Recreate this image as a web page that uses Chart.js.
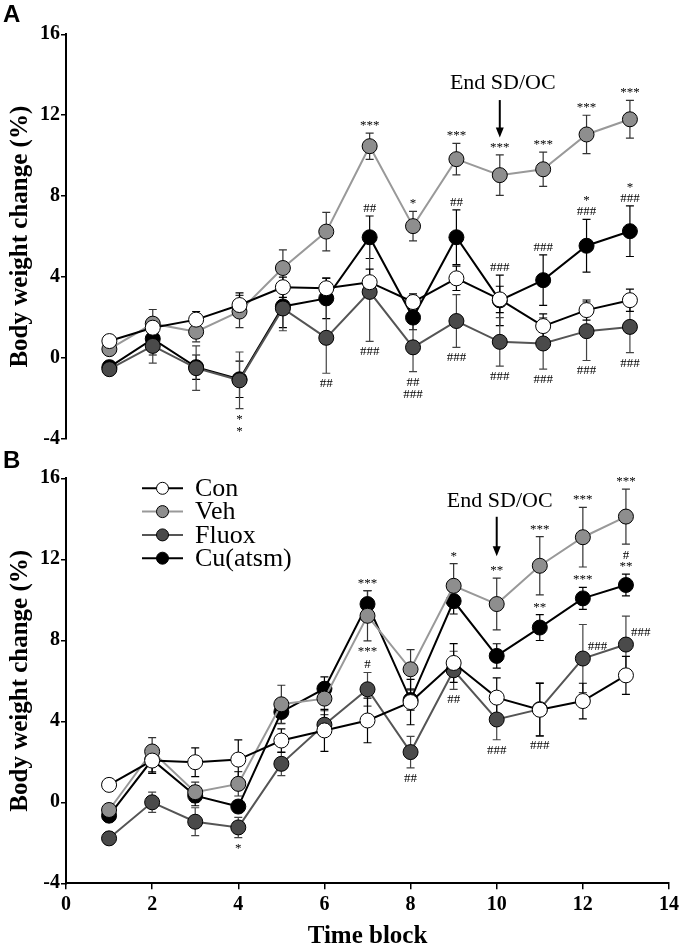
<!DOCTYPE html>
<html>
<head>
<meta charset="utf-8">
<script src="https://cdn.jsdelivr.net/npm/chart.js@4.4.1/dist/chart.umd.min.js"></script>
<style>
html, body { margin: 0; padding: 0; background: #fff; }
#wrap { position: relative; width: 685px; height: 948px; }
canvas { position: absolute; left: 0; }
#panelA { top: 0; }
#panelB { top: 450px; }
</style>
</head>
<body>
<div id="wrap">
<canvas id="panelA" width="685" height="450"></canvas>
<canvas id="panelB" width="685" height="498"></canvas>
</div>
<script>
// Body weight change per time block, two panels (A and B), four groups each.
var timeBlocks = [1, 2, 3, 4, 5, 6, 7, 8, 9, 10, 11, 12, 13];
var xTicks = [0, 2, 4, 6, 8, 10, 12, 14];
var yTicks = [-4, 0, 4, 8, 12, 16];
var groupNames = ["Con", "Veh", "Fluox", "Cu(atsm)"];

// Panel A: means and SEM
var conA = [0.84, 1.5, 1.9, 2.62, 3.5, 3.45, 3.75, 2.77, 3.94, 2.9, 1.58, 2.37, 2.86];
var conErrA = [0.3, 0.5, 0.4, 0.6, 0.5, 0.5, 0.65, 0.4, 0.6, 0.65, 0.6, 0.5, 0.55];
var vehA = [0.44, 1.7, 1.3, 2.3, 4.45, 6.25, 10.47, 6.52, 9.83, 9.04, 9.33, 11.05, 11.8];
var vehErrA = [0.3, 0.7, 0.5, 0.8, 0.9, 0.95, 0.65, 0.73, 0.78, 1.0, 0.85, 0.95, 0.93];
var fluoxA = [-0.55, 0.6, -0.5, -1.1, 2.45, 1.0, 3.27, 0.53, 1.83, 0.8, 0.72, 1.33, 1.54];
var fluoxErrA = [0.3, 0.85, 1.1, 1.4, 1.1, 1.75, 2.45, 1.2, 1.3, 1.2, 1.27, 1.45, 1.27];
var cuA = [-0.45, 0.95, -0.45, -1.05, 2.55, 2.95, 5.97, 2.0, 5.97, 2.85, 3.85, 5.55, 6.27];
var cuErrA = [0.3, 0.8, 0.6, 0.9, 1.05, 1.0, 1.05, 0.6, 1.35, 1.25, 1.25, 1.3, 1.25];

// Panel A: significance marks
var vehAboveA = ["", "", "", "", "", "", "***", "*", "***", "***", "***", "***", "***"];
var cuAboveA = ["", "", "", "", "", "", "##", "", "##", "###", "###", "*\n###", "*\n###"];
var fluoxBelowA = ["", "", "", "*\n*", "", "##", "###", "##\n###", "###", "###", "###", "###", "###"];

// Panel B: means and SEM
var conB = [0.86, 2.06, 1.98, 2.11, 3.05, 3.55, 4.04, 4.95, 6.88, 5.17, 4.57, 5.0, 6.27];
var conErrB = [0.3, 0.63, 0.71, 0.97, 0.58, 1.04, 1.1, 1.12, 0.96, 0.97, 1.3, 0.88, 0.94];
var vehB = [-0.38, 2.51, 0.5, 0.91, 4.84, 5.12, 9.21, 6.57, 10.69, 9.79, 11.68, 13.09, 14.11];
var vehErrB = [0.3, 0.68, 0.5, 0.6, 0.94, 0.6, 1.24, 0.97, 1.1, 1.28, 1.44, 1.47, 1.36];
var fluoxB = [-1.78, 0.0, -0.96, -1.24, 1.9, 3.83, 5.58, 2.48, 6.52, 4.09, 4.6, 7.1, 7.79];
var fluoxErrB = [0.3, 0.5, 0.69, 0.5, 0.58, 0.5, 0.83, 0.78, 0.94, 1.0, 1.3, 1.68, 1.4];
var cuB = [-0.66, 2.1, 0.33, -0.21, 4.46, 5.61, 9.79, 5.05, 9.94, 7.23, 8.63, 10.07, 10.73];
var cuErrB = [0.3, 0.6, 0.5, 0.3, 0.58, 0.58, 0.66, 0.5, 0.64, 0.6, 0.64, 0.54, 0.54];

// Panel B: significance marks
var vehAboveB = ["", "", "", "", "", "", "", "", "*", "**", "***", "***", "***"];
var vehBelowB = ["", "", "", "", "", "", "***", "", "", "", "", "", ""];
var cuAboveB = ["", "", "", "", "", "", "***", "", "", "", "**", "***", "#\n**"];
var fluoxAboveB = ["", "", "", "", "", "", "#", "", "", "", "", "", ""];
var fluoxBelowB = ["", "", "", "*", "", "", "", "##", "##", "###", "###", "", ""];
var fluoxRightB = ["", "", "", "", "", "", "", "", "", "", "", "###", "###"];

var serif = "'Liberation Serif', 'Times New Roman', serif";

var groupStyles = [
    { line: "#000000", fill: "#ffffff", error: "#000000" },
    { line: "#999999", fill: "#8e8e8e", error: "#333333" },
    { line: "#555555", fill: "#4a4a4a", error: "#444444" },
    { line: "#000000", fill: "#000000", error: "#000000" }
];

function toPoints(values) {
    return timeBlocks.map(function (t, i) {
        return { x: t, y: values[i] };
    });
}

function createDataset(index, values, errors, notes) {
    var style = groupStyles[index];
    return {
        label: groupNames[index],
        data: toPoints(values),
        errors: errors,
        notes: notes || {},
        errorColor: style.error,
        borderColor: style.line,
        borderWidth: 2,
        pointBackgroundColor: style.fill,
        pointBorderColor: "#000000",
        pointBorderWidth: 1,
        pointRadius: 7.5,
        pointHoverRadius: 7.5,
        tension: 0,
        fill: false
    };
}

function drawErrorBars(chart) {
    var ctx = chart.ctx;
    var xScale = chart.scales.x;
    var yScale = chart.scales.y;
    ctx.save();
    ctx.lineWidth = 1.2;
    for (var d = chart.data.datasets.length - 1; d >= 0; d--) {
        var ds = chart.data.datasets[d];
        ctx.strokeStyle = ds.errorColor;
        ds.data.forEach(function (p, i) {
            var x = xScale.getPixelForValue(p.x);
            var top = yScale.getPixelForValue(p.y + ds.errors[i]);
            var bottom = yScale.getPixelForValue(p.y - ds.errors[i]);
            ctx.beginPath();
            ctx.moveTo(x, top);
            ctx.lineTo(x, bottom);
            ctx.moveTo(x - 4, top);
            ctx.lineTo(x + 4, top);
            ctx.moveTo(x - 4, bottom);
            ctx.lineTo(x + 4, bottom);
            ctx.stroke();
        });
    }
    ctx.restore();
}

function drawNotes(chart) {
    var ctx = chart.ctx;
    var xScale = chart.scales.x;
    var yScale = chart.scales.y;
    ctx.save();
    ctx.fillStyle = "#000000";
    ctx.font = "13px " + serif;
    ctx.textBaseline = "alphabetic";
    chart.data.datasets.forEach(function (ds) {
        var notes = ds.notes;
        ds.data.forEach(function (p, i) {
            var x = xScale.getPixelForValue(p.x);
            var y = yScale.getPixelForValue(p.y);
            var top = yScale.getPixelForValue(p.y + ds.errors[i]);
            var bottom = yScale.getPixelForValue(p.y - ds.errors[i]);
            ctx.textAlign = "center";
            if (notes.above && notes.above[i]) {
                var up = notes.above[i].split("\n");
                for (var a = 0; a < up.length; a++) {
                    ctx.fillText(up[a], x, top - 4 - (up.length - 1 - a) * 11);
                }
            }
            if (notes.below && notes.below[i]) {
                var down = notes.below[i].split("\n");
                for (var b = 0; b < down.length; b++) {
                    ctx.fillText(down[b], x, bottom + 14 + b * 12);
                }
            }
            if (notes.right && notes.right[i]) {
                ctx.textAlign = "left";
                ctx.fillText(notes.right[i], x + 5, y - 9);
            }
        });
    });
    ctx.restore();
}

function drawEndMarker(chart, opts) {
    var ctx = chart.ctx;
    var x = chart.scales.x.getPixelForValue(opts.endX);
    var yScale = chart.scales.y;
    var textY = yScale.getPixelForValue(opts.endTextY);
    var from = yScale.getPixelForValue(opts.endFrom);
    var to = yScale.getPixelForValue(opts.endTo);
    ctx.save();
    ctx.fillStyle = "#000000";
    ctx.strokeStyle = "#000000";
    ctx.font = "22px " + serif;
    ctx.textAlign = "center";
    ctx.textBaseline = "middle";
    ctx.fillText("End SD/OC", x + 3, textY);
    ctx.lineWidth = 2;
    ctx.beginPath();
    ctx.moveTo(x, from);
    ctx.lineTo(x, to - 8);
    ctx.stroke();
    ctx.beginPath();
    ctx.moveTo(x - 4, to - 10);
    ctx.lineTo(x + 4, to - 10);
    ctx.lineTo(x, to);
    ctx.closePath();
    ctx.fill();
    ctx.restore();
}

function drawLetter(chart, opts) {
    var ctx = chart.ctx;
    ctx.save();
    ctx.fillStyle = "#000000";
    ctx.font = "bold 24px 'Liberation Sans', Arial, sans-serif";
    ctx.textAlign = "left";
    ctx.textBaseline = "alphabetic";
    ctx.fillText(opts.letter, 3, opts.letterY);
    ctx.restore();
}

function drawLegend(chart) {
    var ctx = chart.ctx;
    var area = chart.chartArea;
    ctx.save();
    ctx.font = "26px " + serif;
    ctx.textAlign = "left";
    ctx.textBaseline = "middle";
    chart.data.datasets.forEach(function (ds, i) {
        var y = area.top + 10 + i * 23.3;
        var x0 = area.left + 76;
        ctx.strokeStyle = ds.borderColor;
        ctx.lineWidth = 2;
        ctx.beginPath();
        ctx.moveTo(x0, y);
        ctx.lineTo(x0 + 41, y);
        ctx.stroke();
        ctx.beginPath();
        ctx.arc(x0 + 20.5, y, 6, 0, Math.PI * 2);
        ctx.fillStyle = ds.pointBackgroundColor;
        ctx.fill();
        ctx.lineWidth = 1;
        ctx.strokeStyle = "#000000";
        ctx.stroke();
        ctx.fillStyle = "#000000";
        ctx.fillText(ds.label, x0 + 53, y + 1);
    });
    ctx.restore();
}

var panelPlugin = {
    id: "panelExtras",
    beforeDatasetsDraw: function (chart) {
        drawErrorBars(chart);
    },
    afterDatasetsDraw: function (chart, args, opts) {
        drawNotes(chart);
        drawEndMarker(chart, opts);
        drawLetter(chart, opts);
        if (opts.legend) {
            drawLegend(chart);
        }
    }
};

function tickFont() {
    return { family: serif, size: 20, weight: "bold", lineHeight: 1 };
}

function createScales(showX) {
    return {
        x: {
            type: "linear",
            min: 0,
            max: 14,
            display: showX,
            afterBuildTicks: function (scale) {
                scale.ticks = xTicks.map(function (v) { return { value: v }; });
            },
            afterFit: function (scale) {
                scale.height = showX ? 64.7 : 0;
            },
            grid: { drawOnChartArea: false, drawTicks: true, tickLength: 6, color: "#000000", lineWidth: 1.5 },
            border: { display: true, color: "#000000", width: 2 },
            ticks: { padding: 6, color: "#000000", font: tickFont(), maxRotation: 0, autoSkip: false },
            title: {
                display: true,
                text: "Time block",
                color: "#000000",
                font: { family: serif, size: 25, weight: "bold", lineHeight: 0.88 },
                padding: 0
            }
        },
        y: {
            min: -4,
            max: 16,
            afterBuildTicks: function (scale) {
                scale.ticks = yTicks.map(function (v) { return { value: v }; });
            },
            afterFit: function (scale) {
                scale.width = 66;
            },
            grid: { drawOnChartArea: false, drawTicks: true, tickLength: 5, color: "#000000", lineWidth: 1.5 },
            border: { display: true, color: "#000000", width: 2 },
            ticks: { padding: 1, color: "#000000", font: tickFont() },
            title: {
                display: true,
                text: "Body weight change (%)",
                color: "#000000",
                font: { family: serif, size: 25, weight: "bold", lineHeight: 1.2 },
                padding: { top: 6, bottom: 0 }
            }
        }
    };
}

function createPanel(canvasId, datasets, showX, padding, extras) {
    return new Chart(document.getElementById(canvasId), {
        type: "line",
        data: { datasets: datasets },
        options: {
            responsive: false,
            animation: false,
            devicePixelRatio: 1,
            layout: { padding: padding },
            scales: createScales(showX),
            plugins: {
                legend: { display: false },
                tooltip: { enabled: false },
                panelExtras: extras
            }
        },
        plugins: [panelPlugin]
    });
}

Chart.defaults.font.family = serif;

createPanel("panelA", [
    createDataset(0, conA, conErrA),
    createDataset(1, vehA, vehErrA, { above: vehAboveA }),
    createDataset(2, fluoxA, fluoxErrA, { below: fluoxBelowA }),
    createDataset(3, cuA, cuErrA, { above: cuAboveA })
], false, { left: 0, right: 11.7, top: 34.3, bottom: 9.5 }, {
    letter: "A", letterY: 22, legend: false,
    endX: 10, endTextY: 13.6, endFrom: 12.75, endTo: 10.9
});

createPanel("panelB", [
    createDataset(0, conB, conErrB),
    createDataset(1, vehB, vehErrB, { above: vehAboveB, below: vehBelowB }),
    createDataset(2, fluoxB, fluoxErrB, { above: fluoxAboveB, below: fluoxBelowB, right: fluoxRightB }),
    createDataset(3, cuB, cuErrB, { above: cuAboveB })
], true, { left: 0, right: 11.7, top: 28.3, bottom: 0 }, {
    letter: "B", letterY: 18, legend: true,
    endX: 10, endTextY: 14.85, endFrom: 14.1, endTo: 12.15
});
</script>
</body>
</html>
